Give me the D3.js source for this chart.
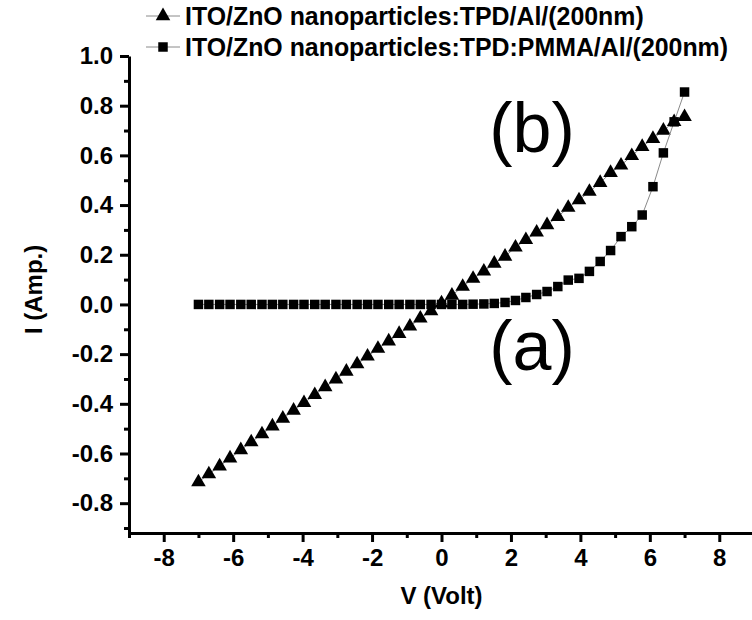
<!DOCTYPE html>
<html>
<head>
<meta charset="utf-8">
<script src="https://cdn.jsdelivr.net/npm/d3@7"></script>
<style>
  html, body { margin: 0; padding: 0; background: #fff; }
  svg { display: block; }
  text { font-family: "Liberation Sans", Arial, sans-serif; }
</style>
</head>
<body>
<svg id="chart" width="752" height="620"></svg>
<script>
// Bias voltage sweep (V), shared by both devices
const voltage = [
  -7.00, -6.70, -6.39, -6.09, -5.78, -5.48, -5.17, -4.87, -4.57, -4.26,
  -3.96, -3.65, -3.35, -3.04, -2.74, -2.43, -2.13, -1.83, -1.52, -1.22,
  -0.91, -0.61, -0.30, 0.00, 0.30, 0.61, 0.91, 1.22, 1.52, 1.83,
  2.13, 2.43, 2.74, 3.04, 3.35, 3.65, 3.96, 4.26, 4.57, 4.87,
  5.17, 5.48, 5.78, 6.09, 6.39, 6.70, 7.00
];

// (b) ITO/ZnO nanoparticles:TPD/Al — current in A
const currentTPD = [
  -0.715, -0.683, -0.651, -0.619, -0.586, -0.554, -0.522, -0.490, -0.459, -0.427,
  -0.396, -0.364, -0.332, -0.301, -0.270, -0.240, -0.209, -0.178, -0.148, -0.118,
  -0.088, -0.056, -0.027, 0.005, 0.036, 0.072, 0.104, 0.133, 0.165, 0.193,
  0.230, 0.260, 0.290, 0.320, 0.353, 0.390, 0.420, 0.454, 0.490, 0.530,
  0.560, 0.598, 0.635, 0.667, 0.700, 0.735, 0.755
];

// (a) ITO/ZnO nanoparticles:TPD:PMMA/Al — current in A
const currentPMMA = [
  0.000, 0.000, 0.000, 0.000, 0.000, 0.000, 0.000, 0.000, 0.000, 0.000,
  0.000, 0.000, 0.000, 0.000, 0.000, 0.000, 0.000, 0.000, 0.000, 0.000,
  0.000, 0.000, 0.000, 0.000, 0.000, 0.000, 0.001, 0.002, 0.004, 0.008,
  0.016, 0.028, 0.040, 0.052, 0.072, 0.098, 0.105, 0.133, 0.173, 0.217,
  0.273, 0.313, 0.360, 0.474, 0.610, 0.735, 0.855
];

const seriesNames = [
  "ITO/ZnO nanoparticles:TPD/Al/(200nm)",
  "ITO/ZnO nanoparticles:TPD:PMMA/Al/(200nm)"
];
const curveLabels = ["(b)", "(a)"];

const xMajor = [-8, -6, -4, -2, 0, 2, 4, 6, 8];
const xMinor = [-9, -7, -5, -3, -1, 1, 3, 5, 7];
const yMajor = [-0.8, -0.6, -0.4, -0.2, 0.0, 0.2, 0.4, 0.6, 0.8, 1.0];
const yMinor = [-0.9, -0.7, -0.5, -0.3, -0.1, 0.1, 0.3, 0.5, 0.7, 0.9];

const svg = d3.select("#chart");

const x = d3.scaleLinear().domain([-9, 9]).range([129, 754]);
const y = d3.scaleLinear().domain([-0.92, 1.0]).range([533, 56]);

const FONT = 24;

// Axes: major ticks with labels, minor ticks without
function styleAxis(g) {
  g.select(".domain").attr("stroke", "#000").attr("stroke-width", 3);
  g.selectAll(".tick line").attr("stroke", "#000").attr("stroke-width", 3);
  g.selectAll(".tick text")
    .attr("font-size", FONT).attr("font-weight", "bold").attr("fill", "#000");
}

const xAxis = svg.append("g")
  .attr("transform", `translate(0,${y.range()[0]})`)
  .call(d3.axisBottom(x).tickValues(xMajor).tickSize(9).tickPadding(7)
    .tickFormat(d3.format("d")).tickSizeOuter(0));
styleAxis(xAxis);
xAxis.selectAll(".tick text").text(d => d < 0 ? "-" + Math.abs(d) : d);

svg.append("g")
  .attr("transform", `translate(0,${y.range()[0]})`)
  .call(d3.axisBottom(x).tickValues(xMinor).tickSize(5).tickFormat("").tickSizeOuter(0))
  .call(g => { styleAxis(g); g.select(".domain").remove(); });

const yAxis = svg.append("g")
  .attr("transform", `translate(${x.range()[0]},0)`)
  .call(d3.axisLeft(y).tickValues(yMajor).tickSize(9).tickPadding(7)
    .tickFormat(d3.format(".1f")).tickSizeOuter(0));
styleAxis(yAxis);
yAxis.selectAll(".tick text").text(d => (d < 0 ? "-" : "") + Math.abs(d).toFixed(1));

svg.append("g")
  .attr("transform", `translate(${x.range()[0]},0)`)
  .call(d3.axisLeft(y).tickValues(yMinor).tickSize(5).tickFormat("").tickSizeOuter(0))
  .call(g => { styleAxis(g); g.select(".domain").remove(); });

// Axis titles
svg.append("text")
  .attr("x", x(0)).attr("y", 604)
  .attr("text-anchor", "middle")
  .attr("font-size", FONT).attr("font-weight", "bold")
  .text("V (Volt)");

svg.append("text")
  .attr("transform", `translate(42,${y(0) - 15}) rotate(-90)`)
  .attr("text-anchor", "middle")
  .attr("font-size", FONT).attr("font-weight", "bold")
  .text("I (Amp.)");

// Data series
const series = [
  { name: seriesNames[0], values: currentTPD, shape: d3.symbolTriangle, size: 92 },
  { name: seriesNames[1], values: currentPMMA, shape: d3.symbolSquare, size: 90 }
];

const line = d3.line().x(d => x(d[0])).y(d => y(d[1]));

series.forEach(s => {
  const pts = voltage.map((v, i) => [v, s.values[i]]);
  svg.append("path")
    .attr("d", line(pts))
    .attr("fill", "none")
    .attr("stroke", "#8a8a8a")
    .attr("stroke-width", 1);
  svg.append("g").selectAll("path")
    .data(pts).join("path")
    .attr("transform", d => `translate(${x(d[0])},${y(d[1])})`)
    .attr("d", d3.symbol(s.shape, s.size))
    .attr("fill", "#000");
});

// Curve labels
svg.append("text")
  .attr("x", 532).attr("y", 152)
  .attr("text-anchor", "middle")
  .attr("font-size", 70)
  .text(curveLabels[0]);
svg.append("text")
  .attr("x", 532).attr("y", 370)
  .attr("text-anchor", "middle")
  .attr("font-size", 70)
  .text(curveLabels[1]);

// Legend
const legend = svg.append("g");
series.forEach((s, i) => {
  const ly = 16 + i * 31;
  legend.append("line")
    .attr("x1", 146).attr("x2", 180).attr("y1", ly).attr("y2", ly)
    .attr("stroke", "#8a8a8a").attr("stroke-width", 1);
  legend.append("path")
    .attr("transform", `translate(163,${ly})`)
    .attr("d", d3.symbol(s.shape, s.size))
    .attr("fill", "#000");
  legend.append("text")
    .attr("x", 185).attr("y", ly)
    .attr("dy", "0.36em")
    .attr("font-size", 24.9).attr("font-weight", "bold")
    .text(s.name);
});
</script>
</body>
</html>
